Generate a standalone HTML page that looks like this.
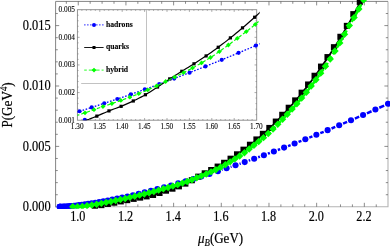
<!DOCTYPE html><html><head><meta charset="utf-8"><style>html,body{margin:0;padding:0;background:#fff}svg{display:block;will-change:transform;opacity:0.999}text{font-family:"Liberation Serif",serif;fill:#000}</style></head><body>
<svg width="390" height="246" viewBox="0 0 390 246">
<rect width="390" height="246" fill="#fff"/>
<defs><clipPath id="cm"><rect x="54.6" y="0" width="335.4" height="208.8"/></clipPath><clipPath id="ci"><rect x="77.4" y="7.699999999999999" width="182.29999999999998" height="112.5"/></clipPath></defs>
<path d="M55.6 206.8H388.0V1.4" fill="none" stroke="#b4b4b4" stroke-width="1.1"/><path d="M55.6 207.3V1.4H388.0" fill="none" stroke="#858585" stroke-width="1"/>
<path d="M66.33 206.8v-2.4M66.33 1.4v2.4M78.25 206.8v-4.0M78.25 1.4v4.0M90.17 206.8v-2.4M90.17 1.4v2.4M102.09 206.8v-2.4M102.09 1.4v2.4M114.01 206.8v-2.4M114.01 1.4v2.4M125.93 206.8v-4.0M125.93 1.4v4.0M137.85 206.8v-2.4M137.85 1.4v2.4M149.77 206.8v-2.4M149.77 1.4v2.4M161.69 206.8v-2.4M161.69 1.4v2.4M173.61 206.8v-4.0M173.61 1.4v4.0M185.53 206.8v-2.4M185.53 1.4v2.4M197.45 206.8v-2.4M197.45 1.4v2.4M209.37 206.8v-2.4M209.37 1.4v2.4M221.29 206.8v-4.0M221.29 1.4v4.0M233.21 206.8v-2.4M233.21 1.4v2.4M245.13 206.8v-2.4M245.13 1.4v2.4M257.05 206.8v-2.4M257.05 1.4v2.4M268.97 206.8v-4.0M268.97 1.4v4.0M280.89 206.8v-2.4M280.89 1.4v2.4M292.81 206.8v-2.4M292.81 1.4v2.4M304.73 206.8v-2.4M304.73 1.4v2.4M316.65 206.8v-4.0M316.65 1.4v4.0M328.57 206.8v-2.4M328.57 1.4v2.4M340.49 206.8v-2.4M340.49 1.4v2.4M352.41 206.8v-2.4M352.41 1.4v2.4M364.33 206.8v-4.0M364.33 1.4v4.0M376.25 206.8v-2.4M376.25 1.4v2.4M55.6 194.72h2.2M388.0 194.72h-2.2M55.6 182.64h2.2M388.0 182.64h-2.2M55.6 170.56h2.2M388.0 170.56h-2.2M55.6 158.48h2.2M388.0 158.48h-2.2M55.6 146.40h3.6M388.0 146.40h-3.6M55.6 134.32h2.2M388.0 134.32h-2.2M55.6 122.24h2.2M388.0 122.24h-2.2M55.6 110.16h2.2M388.0 110.16h-2.2M55.6 98.08h2.2M388.0 98.08h-2.2M55.6 86.00h3.6M388.0 86.00h-3.6M55.6 73.92h2.2M388.0 73.92h-2.2M55.6 61.84h2.2M388.0 61.84h-2.2M55.6 49.76h2.2M388.0 49.76h-2.2M55.6 37.68h2.2M388.0 37.68h-2.2M55.6 25.60h3.6M388.0 25.60h-3.6M55.6 13.52h2.2M388.0 13.52h-2.2" stroke="#5a5a5a" stroke-width="0.7" fill="none"/>
<text transform="translate(77.85,221.40) scale(1,1.13)" font-size="12.2" text-anchor="middle" stroke="#000" stroke-width="0.16" >1.0</text>
<text transform="translate(125.53,221.40) scale(1,1.13)" font-size="12.2" text-anchor="middle" stroke="#000" stroke-width="0.16" >1.2</text>
<text transform="translate(173.21,221.40) scale(1,1.13)" font-size="12.2" text-anchor="middle" stroke="#000" stroke-width="0.16" >1.4</text>
<text transform="translate(220.89,221.40) scale(1,1.13)" font-size="12.2" text-anchor="middle" stroke="#000" stroke-width="0.16" >1.6</text>
<text transform="translate(268.57,221.40) scale(1,1.13)" font-size="12.2" text-anchor="middle" stroke="#000" stroke-width="0.16" >1.8</text>
<text transform="translate(316.25,221.40) scale(1,1.13)" font-size="12.2" text-anchor="middle" stroke="#000" stroke-width="0.16" >2.0</text>
<text transform="translate(363.93,221.40) scale(1,1.13)" font-size="12.2" text-anchor="middle" stroke="#000" stroke-width="0.16" >2.2</text>
<text transform="translate(50.60,211.00) scale(1,1.13)" font-size="12.4" text-anchor="end" stroke="#000" stroke-width="0.16" >0.000</text>
<text transform="translate(50.60,150.60) scale(1,1.13)" font-size="12.4" text-anchor="end" stroke="#000" stroke-width="0.16" >0.005</text>
<text transform="translate(50.60,90.20) scale(1,1.13)" font-size="12.4" text-anchor="end" stroke="#000" stroke-width="0.16" >0.010</text>
<text transform="translate(50.60,29.80) scale(1,1.13)" font-size="12.4" text-anchor="end" stroke="#000" stroke-width="0.16" >0.015</text>
<text transform="translate(198.00,243.30) scale(1,1.13)" font-size="13.0" text-anchor="start" stroke="#000" stroke-width="0.17" ><tspan font-style="italic">μ</tspan><tspan font-style="italic" font-size="8.8" dy="2.2">B</tspan><tspan dy="-2.2">(GeV)</tspan></text>
<text transform="translate(11.90,127.60) rotate(-90) scale(1,1.13)" font-size="13.15" text-anchor="start" stroke="#000" stroke-width="0.17" >P(GeV<tspan font-size="8.8" dy="-4.6">4</tspan><tspan dy="4.6">)</tspan></text>
<g clip-path="url(#cm)"><path d="M95.41 206.42L96.82 206.15L98.24 205.88L99.65 205.61L101.06 205.34L102.47 205.07L103.88 204.79L105.29 204.52L106.70 204.25L108.11 203.97L109.53 203.70L110.94 203.43L112.35 203.15L113.76 202.88L115.17 202.60L116.58 202.33L117.99 202.05L119.40 201.77L120.81 201.50L122.23 201.22L123.64 200.94L125.05 200.67L126.46 200.39L127.87 200.11L129.28 199.83L130.69 199.55L132.10 199.27L133.52 198.99L134.93 198.71L136.34 198.43L137.75 198.15L139.16 197.87L140.57 197.61L141.98 197.34L143.39 197.08L144.81 196.82L146.22 196.55L147.63 196.28L149.04 195.99L150.45 195.69L151.86 195.38L153.27 195.04L154.68 194.67L156.10 194.26L157.51 193.82L158.92 193.35L160.33 192.86L161.74 192.36L163.15 191.85L164.56 191.35L165.97 190.86L167.39 190.38L168.80 189.94L170.21 189.52L171.62 189.10L173.03 188.66L174.44 188.18L175.85 187.68L177.26 187.17L178.68 186.63L180.09 186.08L181.50 185.51L182.91 184.92L184.32 184.31L185.73 183.68L187.14 183.01L188.55 182.30L189.97 181.56L191.38 180.79L192.79 180.01L194.20 179.22L195.61 178.43L197.02 177.65L198.43 176.89L199.84 176.15L201.26 175.41L202.67 174.69L204.08 173.97L205.49 173.26L206.90 172.55L208.31 171.83L209.72 171.12L211.13 170.40L212.55 169.67L213.96 168.94L215.37 168.19L216.78 167.43L218.19 166.65L219.60 165.86L221.01 165.04L222.42 164.21L223.83 163.36L225.25 162.50L226.66 161.62L228.07 160.73L229.48 159.83L230.89 158.91L232.30 157.98L233.71 157.04L235.12 156.08L236.54 155.11L237.95 154.13L239.36 153.13L240.77 152.13L242.18 151.11L243.59 150.07L245.00 149.03L246.41 147.97L247.83 146.89L249.24 145.80L250.65 144.69L252.06 143.56L253.47 142.42L254.88 141.26L256.29 140.08L257.70 138.89L259.12 137.69L260.53 136.47L261.94 135.23L263.35 133.99L264.76 132.72L266.17 131.45L267.58 130.16L268.99 128.86L270.41 127.54L271.82 126.18L273.23 124.80L274.64 123.40L276.05 121.97L277.46 120.52L278.87 119.05L280.28 117.56L281.70 116.07L283.11 114.56L284.52 113.04L285.93 111.50L287.34 109.96L288.75 108.41L290.16 106.84L291.57 105.26L292.99 103.66L294.40 102.04L295.81 100.41L297.22 98.76L298.63 97.09L300.04 95.40L301.45 93.69L302.86 91.95L304.28 90.19L305.69 88.41L307.10 86.60L308.51 84.77L309.92 82.91L311.33 81.03L312.74 79.12L314.15 77.19L315.57 75.24L316.98 73.27L318.39 71.28L319.80 69.27L321.21 67.24L322.62 65.20L324.03 63.13L325.44 61.06L326.85 58.96L328.27 56.86L329.68 54.73L331.09 52.59L332.50 50.41L333.91 48.22L335.32 46.00L336.73 43.76L338.14 41.49L339.56 39.20L340.97 36.88L342.38 34.54L343.79 32.18L345.20 29.79L346.61 27.38L348.02 24.95L349.43 22.45L350.85 19.90L352.26 17.30L353.67 14.66L355.08 12.00L356.49 9.33L357.90 6.65L359.31 3.95L360.72 1.23L362.14 -1.50L363.55 -4.26L364.96 -7.03L366.37 -9.82L367.78 -12.63L369.19 -15.46L370.60 -18.31L372.01 -21.19L373.43 -24.09L374.84 -27.02L376.25 -29.97" stroke="#000" stroke-width="1.8" fill="none"/><rect x="91.86" y="203.36" width="6.1" height="6.1" fill="#000"/><rect x="98.32" y="202.11" width="6.1" height="6.1" fill="#000"/><rect x="104.78" y="200.86" width="6.1" height="6.1" fill="#000"/><rect x="111.24" y="199.61" width="6.1" height="6.1" fill="#000"/><rect x="117.70" y="198.34" width="6.1" height="6.1" fill="#000"/><rect x="124.16" y="197.07" width="6.1" height="6.1" fill="#000"/><rect x="130.62" y="195.79" width="6.1" height="6.1" fill="#000"/><rect x="137.08" y="194.53" width="6.1" height="6.1" fill="#000"/><rect x="143.54" y="193.31" width="6.1" height="6.1" fill="#000"/><rect x="150.00" y="191.89" width="6.1" height="6.1" fill="#000"/><rect x="156.46" y="189.89" width="6.1" height="6.1" fill="#000"/><rect x="162.93" y="187.60" width="6.1" height="6.1" fill="#000"/><rect x="169.39" y="185.60" width="6.1" height="6.1" fill="#000"/><rect x="175.85" y="183.27" width="6.1" height="6.1" fill="#000"/><rect x="182.31" y="180.53" width="6.1" height="6.1" fill="#000"/><rect x="188.77" y="177.17" width="6.1" height="6.1" fill="#000"/><rect x="195.23" y="173.60" width="6.1" height="6.1" fill="#000"/><rect x="201.69" y="170.28" width="6.1" height="6.1" fill="#000"/><rect x="208.15" y="167.01" width="6.1" height="6.1" fill="#000"/><rect x="214.61" y="163.56" width="6.1" height="6.1" fill="#000"/><rect x="221.07" y="159.77" width="6.1" height="6.1" fill="#000"/><rect x="227.53" y="155.67" width="6.1" height="6.1" fill="#000"/><rect x="233.99" y="151.29" width="6.1" height="6.1" fill="#000"/><rect x="240.45" y="146.65" width="6.1" height="6.1" fill="#000"/><rect x="246.91" y="141.71" width="6.1" height="6.1" fill="#000"/><rect x="253.37" y="136.42" width="6.1" height="6.1" fill="#000"/><rect x="259.83" y="130.82" width="6.1" height="6.1" fill="#000"/><rect x="266.30" y="124.92" width="6.1" height="6.1" fill="#000"/><rect x="272.76" y="118.55" width="6.1" height="6.1" fill="#000"/><rect x="279.22" y="111.76" width="6.1" height="6.1" fill="#000"/><rect x="285.68" y="104.72" width="6.1" height="6.1" fill="#000"/><rect x="292.14" y="97.38" width="6.1" height="6.1" fill="#000"/><rect x="298.60" y="89.66" width="6.1" height="6.1" fill="#000"/><rect x="305.06" y="81.46" width="6.1" height="6.1" fill="#000"/><rect x="311.52" y="72.74" width="6.1" height="6.1" fill="#000"/><rect x="317.98" y="63.58" width="6.1" height="6.1" fill="#000"/><rect x="324.44" y="54.07" width="6.1" height="6.1" fill="#000"/><rect x="330.90" y="44.16" width="6.1" height="6.1" fill="#000"/><rect x="337.36" y="33.76" width="6.1" height="6.1" fill="#000"/><rect x="343.82" y="22.85" width="6.1" height="6.1" fill="#000"/><rect x="350.28" y="11.11" width="6.1" height="6.1" fill="#000"/><rect x="356.74" y="-1.18" width="6.1" height="6.1" fill="#000"/><path d="M59.67 206.80L59.79 206.80M59.79 206.80L60.04 206.79M60.04 206.79L60.43 206.78M60.43 206.78L60.98 206.77M60.98 206.77L61.70 206.74M61.70 206.74L62.59 206.69M62.59 206.69L63.65 206.63M63.65 206.63L64.90 206.55M64.90 206.55L66.33 206.44M66.33 206.44L67.95 206.31M67.95 206.31L69.76 206.15M69.76 206.15L71.77 205.95M71.77 205.95L73.98 205.72M73.98 205.72L76.40 205.44M76.40 205.44L79.02 205.12M79.02 205.12L81.85 204.76M81.85 204.76L84.89 204.34M84.89 204.34L88.14 203.86M88.14 203.86L91.62 203.33M91.62 203.33L95.31 202.73M95.31 202.73L99.22 202.06M99.22 202.06L103.35 201.32M103.35 201.32L107.71 200.51M107.71 200.51L112.30 199.62M112.30 199.62L117.11 198.64M117.11 198.64L122.16 197.58M122.16 197.58L127.43 196.43M127.43 196.43L132.94 195.18M132.94 195.18L138.69 193.83M221.93 169.85L222.55 169.65M230.61 166.94L231.50 166.64M239.54 163.88L240.71 163.47M248.73 160.65L250.18 160.14M258.18 157.26L259.90 156.64M267.88 153.70L269.88 152.96M277.84 149.97L280.12 149.10M288.06 146.05L290.62 145.06M298.54 141.96L301.39 140.83M309.28 137.67L312.41 136.41M320.28 133.20L323.70 131.79M331.55 128.52L335.26 126.96M343.09 123.65L347.08 121.93M354.88 118.56L359.17 116.69M366.95 113.27L371.53 111.24M379.28 107.76L384.15 105.56" stroke="#0000ff" stroke-width="2.5" fill="none"/><circle cx="59.67" cy="206.80" r="3.05" fill="#0000ff"/><circle cx="59.79" cy="206.80" r="3.05" fill="#0000ff"/><circle cx="60.04" cy="206.79" r="3.05" fill="#0000ff"/><circle cx="60.43" cy="206.78" r="3.05" fill="#0000ff"/><circle cx="60.98" cy="206.77" r="3.05" fill="#0000ff"/><circle cx="61.70" cy="206.74" r="3.05" fill="#0000ff"/><circle cx="62.59" cy="206.69" r="3.05" fill="#0000ff"/><circle cx="63.65" cy="206.63" r="3.05" fill="#0000ff"/><circle cx="64.90" cy="206.55" r="3.05" fill="#0000ff"/><circle cx="66.33" cy="206.44" r="3.05" fill="#0000ff"/><circle cx="67.95" cy="206.31" r="3.05" fill="#0000ff"/><circle cx="69.76" cy="206.15" r="3.05" fill="#0000ff"/><circle cx="71.77" cy="205.95" r="3.05" fill="#0000ff"/><circle cx="73.98" cy="205.72" r="3.05" fill="#0000ff"/><circle cx="76.40" cy="205.44" r="3.05" fill="#0000ff"/><circle cx="79.02" cy="205.12" r="3.05" fill="#0000ff"/><circle cx="81.85" cy="204.76" r="3.05" fill="#0000ff"/><circle cx="84.89" cy="204.34" r="3.05" fill="#0000ff"/><circle cx="88.14" cy="203.86" r="3.05" fill="#0000ff"/><circle cx="91.62" cy="203.33" r="3.05" fill="#0000ff"/><circle cx="95.31" cy="202.73" r="3.05" fill="#0000ff"/><circle cx="99.22" cy="202.06" r="3.05" fill="#0000ff"/><circle cx="103.35" cy="201.32" r="3.05" fill="#0000ff"/><circle cx="107.71" cy="200.51" r="3.05" fill="#0000ff"/><circle cx="112.30" cy="199.62" r="3.05" fill="#0000ff"/><circle cx="117.11" cy="198.64" r="3.05" fill="#0000ff"/><circle cx="122.16" cy="197.58" r="3.05" fill="#0000ff"/><circle cx="127.43" cy="196.43" r="3.05" fill="#0000ff"/><circle cx="132.94" cy="195.18" r="3.05" fill="#0000ff"/><circle cx="138.69" cy="193.83" r="3.05" fill="#0000ff"/><circle cx="144.68" cy="192.38" r="3.05" fill="#0000ff"/><circle cx="150.90" cy="190.82" r="3.05" fill="#0000ff"/><circle cx="157.36" cy="189.14" r="3.05" fill="#0000ff"/><circle cx="164.07" cy="187.35" r="3.05" fill="#0000ff"/><circle cx="171.02" cy="185.44" r="3.05" fill="#0000ff"/><circle cx="178.21" cy="183.41" r="3.05" fill="#0000ff"/><circle cx="185.65" cy="181.24" r="3.05" fill="#0000ff"/><circle cx="193.34" cy="178.94" r="3.05" fill="#0000ff"/><circle cx="201.27" cy="176.50" r="3.05" fill="#0000ff"/><circle cx="209.46" cy="173.92" r="3.05" fill="#0000ff"/><circle cx="217.90" cy="171.19" r="3.05" fill="#0000ff"/><circle cx="226.59" cy="168.31" r="3.05" fill="#0000ff"/><circle cx="235.53" cy="165.27" r="3.05" fill="#0000ff"/><circle cx="244.73" cy="162.08" r="3.05" fill="#0000ff"/><circle cx="254.18" cy="158.72" r="3.05" fill="#0000ff"/><circle cx="263.89" cy="155.18" r="3.05" fill="#0000ff"/><circle cx="273.87" cy="151.48" r="3.05" fill="#0000ff"/><circle cx="284.10" cy="147.59" r="3.05" fill="#0000ff"/><circle cx="294.59" cy="143.52" r="3.05" fill="#0000ff"/><circle cx="305.34" cy="139.27" r="3.05" fill="#0000ff"/><circle cx="316.36" cy="134.82" r="3.05" fill="#0000ff"/><circle cx="327.63" cy="130.17" r="3.05" fill="#0000ff"/><circle cx="339.18" cy="125.32" r="3.05" fill="#0000ff"/><circle cx="350.99" cy="120.26" r="3.05" fill="#0000ff"/><circle cx="363.07" cy="114.99" r="3.05" fill="#0000ff"/><circle cx="375.41" cy="109.51" r="3.05" fill="#0000ff"/><circle cx="388.02" cy="103.80" r="3.05" fill="#0000ff"/><path d="M72.69 206.79L74.22 206.78L75.74 206.76L77.27 206.74L78.79 206.71L80.32 206.62L81.85 206.48L83.37 206.29L84.90 206.07L86.42 205.84L87.95 205.59L89.47 205.36L91.00 205.13L92.52 204.90L94.05 204.65L95.57 204.40L97.10 204.13L98.63 203.86L100.15 203.58L101.68 203.29L103.20 203.00L104.73 202.70L106.25 202.40L107.78 202.09L109.30 201.78L110.83 201.47L112.35 201.16L113.88 200.85L115.40 200.54L116.93 200.23L118.46 199.91L119.98 199.58L121.51 199.25L123.03 198.92L124.56 198.58L126.08 198.24L127.61 197.90L129.13 197.55L130.66 197.20L132.18 196.85L133.71 196.50L135.23 196.14L136.76 195.79L138.29 195.43L139.81 195.07L141.34 194.71L142.86 194.34L144.39 193.97L145.91 193.59L147.44 193.21L148.96 192.81L150.49 192.41L152.01 192.00L153.54 191.58L155.06 191.14L156.59 190.71L158.12 190.27L159.64 189.83L161.17 189.39L162.69 188.96L164.22 188.54L165.74 188.11L167.27 187.69L168.79 187.26L170.32 186.83L171.84 186.39L173.37 185.94L174.90 185.48L176.42 185.02L177.95 184.55L179.47 184.07L181.00 183.59L182.52 183.09L184.05 182.58L185.57 182.06L187.10 181.52L188.62 180.96L190.15 180.38L191.67 179.80L193.20 179.20L194.73 178.60L196.25 177.99L197.78 177.38L199.30 176.77L200.83 176.16L202.35 175.55L203.88 174.93L205.40 174.31L206.93 173.67L208.45 173.01L209.98 172.34L211.50 171.66L213.03 170.97L214.56 170.26L216.08 169.54L217.61 168.80L219.13 168.05L220.66 167.27L222.18 166.46L223.71 165.62L225.23 164.75L226.76 163.85L228.28 162.94L229.81 162.01L231.33 161.08L232.86 160.14L234.39 159.21L235.91 158.28L237.44 157.35L238.96 156.41L240.49 155.45L242.01 154.46L243.54 153.43L245.06 152.35L246.59 151.19L248.11 149.94L249.64 148.70L251.17 147.47L252.69 146.26L254.22 145.06L255.74 143.85L257.27 142.65L258.79 141.44L260.32 140.22L261.84 138.98L263.37 137.72L264.89 136.44L266.42 135.13L267.94 133.79L269.47 132.41L271.00 130.99L272.52 129.52L274.05 128.02L275.57 126.48L277.10 124.92L278.62 123.34L280.15 121.75L281.67 120.15L283.20 118.54L284.72 116.94L286.25 115.34L287.77 113.73L289.30 112.11L290.83 110.47L292.35 108.81L293.88 107.13L295.40 105.43L296.93 103.68L298.45 101.90L299.98 100.10L301.50 98.26L303.03 96.40L304.55 94.52L306.08 92.61L307.60 90.68L309.13 88.72L310.66 86.74L312.18 84.74L313.71 82.71L315.23 80.67L316.76 78.60L318.28 76.51L319.81 74.40L321.33 72.25L322.86 70.07L324.38 67.85L325.91 65.60L327.44 63.30L328.96 60.96L330.49 58.56L332.01 56.06L333.54 53.48L335.06 50.88L336.59 48.29L338.11 45.71L339.64 43.11L341.16 40.47L342.69 37.78L344.21 34.98L345.74 32.06L347.27 29.17L348.79 26.42L350.32 23.87L351.84 21.38L353.37 18.83L354.89 16.16L356.42 13.42L357.94 10.63L359.47 7.79L360.99 4.89L362.52 1.96L364.04 -0.99L365.57 -3.95L367.10 -6.93L368.62 -9.92L370.15 -12.92L371.67 -15.95L373.20 -18.99L374.72 -22.05L376.25 -25.14" stroke="#00ff00" stroke-width="2.6" fill="none" stroke-dasharray="5 2.5"/><path d="M69.06 206.79L72.76 203.09L76.46 206.79L72.76 210.49Z" fill="#00ff00"/><path d="M73.83 206.73L77.53 203.03L81.23 206.73L77.53 210.43Z" fill="#00ff00"/><path d="M78.60 206.42L82.30 202.72L86.00 206.42L82.30 210.12Z" fill="#00ff00"/><path d="M83.37 205.73L87.07 202.03L90.77 205.73L87.07 209.43Z" fill="#00ff00"/><path d="M88.14 205.00L91.84 201.30L95.54 205.00L91.84 208.70Z" fill="#00ff00"/><path d="M92.90 204.22L96.60 200.52L100.30 204.22L96.60 207.92Z" fill="#00ff00"/><path d="M97.67 203.35L101.37 199.65L105.07 203.35L101.37 207.05Z" fill="#00ff00"/><path d="M102.44 202.42L106.14 198.72L109.84 202.42L106.14 206.12Z" fill="#00ff00"/><path d="M107.21 201.46L110.91 197.76L114.61 201.46L110.91 205.16Z" fill="#00ff00"/><path d="M111.98 200.49L115.68 196.79L119.38 200.49L115.68 204.19Z" fill="#00ff00"/><path d="M116.74 199.48L120.44 195.78L124.14 199.48L120.44 203.18Z" fill="#00ff00"/><path d="M121.51 198.44L125.21 194.74L128.91 198.44L125.21 202.14Z" fill="#00ff00"/><path d="M126.28 197.36L129.98 193.66L133.68 197.36L129.98 201.06Z" fill="#00ff00"/><path d="M131.05 196.26L134.75 192.56L138.45 196.26L134.75 199.96Z" fill="#00ff00"/><path d="M135.82 195.14L139.52 191.44L143.22 195.14L139.52 198.84Z" fill="#00ff00"/><path d="M140.58 193.99L144.28 190.29L147.98 193.99L144.28 197.69Z" fill="#00ff00"/><path d="M145.35 192.79L149.05 189.09L152.75 192.79L149.05 196.49Z" fill="#00ff00"/><path d="M150.12 191.50L153.82 187.80L157.52 191.50L153.82 195.20Z" fill="#00ff00"/><path d="M154.89 190.13L158.59 186.43L162.29 190.13L158.59 193.83Z" fill="#00ff00"/><path d="M159.66 188.78L163.36 185.08L167.06 188.78L163.36 192.48Z" fill="#00ff00"/><path d="M164.42 187.45L168.12 183.75L171.82 187.45L168.12 191.15Z" fill="#00ff00"/><path d="M169.19 186.08L172.89 182.38L176.59 186.08L172.89 189.78Z" fill="#00ff00"/><path d="M173.96 184.64L177.66 180.94L181.36 184.64L177.66 188.34Z" fill="#00ff00"/><path d="M178.73 183.12L182.43 179.42L186.13 183.12L182.43 186.82Z" fill="#00ff00"/><path d="M183.50 181.48L187.20 177.78L190.90 181.48L187.20 185.18Z" fill="#00ff00"/><path d="M188.26 179.68L191.96 175.98L195.66 179.68L191.96 183.38Z" fill="#00ff00"/><path d="M193.03 177.80L196.73 174.10L200.43 177.80L196.73 181.50Z" fill="#00ff00"/><path d="M197.80 175.89L201.50 172.19L205.20 175.89L201.50 179.59Z" fill="#00ff00"/><path d="M202.57 173.95L206.27 170.25L209.97 173.95L206.27 177.65Z" fill="#00ff00"/><path d="M207.34 171.87L211.04 168.17L214.74 171.87L211.04 175.57Z" fill="#00ff00"/><path d="M212.10 169.68L215.80 165.98L219.50 169.68L215.80 173.38Z" fill="#00ff00"/><path d="M216.87 167.31L220.57 163.61L224.27 167.31L220.57 171.01Z" fill="#00ff00"/><path d="M221.64 164.69L225.34 160.99L229.04 164.69L225.34 168.39Z" fill="#00ff00"/><path d="M226.41 161.83L230.11 158.13L233.81 161.83L230.11 165.53Z" fill="#00ff00"/><path d="M231.18 158.91L234.88 155.21L238.58 158.91L234.88 162.61Z" fill="#00ff00"/><path d="M235.94 155.98L239.64 152.28L243.34 155.98L239.64 159.68Z" fill="#00ff00"/><path d="M240.71 152.82L244.41 149.12L248.11 152.82L244.41 156.52Z" fill="#00ff00"/><path d="M245.48 149.07L249.18 145.37L252.88 149.07L249.18 152.77Z" fill="#00ff00"/><path d="M250.25 145.27L253.95 141.57L257.65 145.27L253.95 148.97Z" fill="#00ff00"/><path d="M255.02 141.50L258.72 137.80L262.42 141.50L258.72 145.20Z" fill="#00ff00"/><path d="M259.78 137.63L263.48 133.93L267.18 137.63L263.48 141.33Z" fill="#00ff00"/><path d="M264.55 133.52L268.25 129.82L271.95 133.52L268.25 137.22Z" fill="#00ff00"/><path d="M269.32 129.03L273.02 125.33L276.72 129.03L273.02 132.73Z" fill="#00ff00"/><path d="M274.09 124.21L277.79 120.51L281.49 124.21L277.79 127.91Z" fill="#00ff00"/><path d="M278.86 119.22L282.56 115.52L286.26 119.22L282.56 122.92Z" fill="#00ff00"/><path d="M283.62 114.20L287.32 110.50L291.02 114.20L287.32 117.90Z" fill="#00ff00"/><path d="M288.39 109.10L292.09 105.40L295.79 109.10L292.09 112.80Z" fill="#00ff00"/><path d="M293.16 103.76L296.86 100.06L300.56 103.76L296.86 107.46Z" fill="#00ff00"/><path d="M297.93 98.11L301.63 94.41L305.33 98.11L301.63 101.81Z" fill="#00ff00"/><path d="M302.70 92.21L306.40 88.51L310.10 92.21L306.40 95.91Z" fill="#00ff00"/><path d="M307.46 86.07L311.16 82.37L314.86 86.07L311.16 89.77Z" fill="#00ff00"/><path d="M312.23 79.72L315.93 76.02L319.63 79.72L315.93 83.42Z" fill="#00ff00"/><path d="M317.00 73.15L320.70 69.45L324.40 73.15L320.70 76.85Z" fill="#00ff00"/><path d="M321.77 66.25L325.47 62.55L329.17 66.25L325.47 69.95Z" fill="#00ff00"/><path d="M326.54 58.96L330.24 55.26L333.94 58.96L330.24 62.66Z" fill="#00ff00"/><path d="M331.30 50.98L335.00 47.28L338.70 50.98L335.00 54.68Z" fill="#00ff00"/><path d="M336.07 42.88L339.77 39.18L343.47 42.88L339.77 46.58Z" fill="#00ff00"/><path d="M340.84 34.36L344.54 30.66L348.24 34.36L344.54 38.06Z" fill="#00ff00"/><path d="M345.61 25.54L349.31 21.84L353.01 25.54L349.31 29.24Z" fill="#00ff00"/><path d="M350.38 17.60L354.08 13.90L357.78 17.60L354.08 21.30Z" fill="#00ff00"/><path d="M355.14 8.96L358.84 5.26L362.54 8.96L358.84 12.66Z" fill="#00ff00"/><path d="M359.91 -0.15L363.61 -3.85L367.31 -0.15L363.61 3.55Z" fill="#00ff00"/></g>
<rect x="77.4" y="9.7" width="179.29999999999998" height="110.5" fill="#fff" stroke="#888" stroke-width="0.9"/>
<path d="M81.88 120.2v-1.2M81.88 9.7v1.2M86.36 120.2v-1.2M86.36 9.7v1.2M90.84 120.2v-1.2M90.84 9.7v1.2M95.32 120.2v-1.2M95.32 9.7v1.2M99.80 120.2v-2.2M99.80 9.7v2.2M104.28 120.2v-1.2M104.28 9.7v1.2M108.76 120.2v-1.2M108.76 9.7v1.2M113.24 120.2v-1.2M113.24 9.7v1.2M117.72 120.2v-1.2M117.72 9.7v1.2M122.20 120.2v-2.2M122.20 9.7v2.2M126.68 120.2v-1.2M126.68 9.7v1.2M131.16 120.2v-1.2M131.16 9.7v1.2M135.64 120.2v-1.2M135.64 9.7v1.2M140.12 120.2v-1.2M140.12 9.7v1.2M144.60 120.2v-2.2M144.60 9.7v2.2M149.08 120.2v-1.2M149.08 9.7v1.2M153.56 120.2v-1.2M153.56 9.7v1.2M158.04 120.2v-1.2M158.04 9.7v1.2M162.52 120.2v-1.2M162.52 9.7v1.2M167.00 120.2v-2.2M167.00 9.7v2.2M171.48 120.2v-1.2M171.48 9.7v1.2M175.96 120.2v-1.2M175.96 9.7v1.2M180.44 120.2v-1.2M180.44 9.7v1.2M184.92 120.2v-1.2M184.92 9.7v1.2M189.40 120.2v-2.2M189.40 9.7v2.2M193.88 120.2v-1.2M193.88 9.7v1.2M198.36 120.2v-1.2M198.36 9.7v1.2M202.84 120.2v-1.2M202.84 9.7v1.2M207.32 120.2v-1.2M207.32 9.7v1.2M211.80 120.2v-2.2M211.80 9.7v2.2M216.28 120.2v-1.2M216.28 9.7v1.2M220.76 120.2v-1.2M220.76 9.7v1.2M225.24 120.2v-1.2M225.24 9.7v1.2M229.72 120.2v-1.2M229.72 9.7v1.2M234.20 120.2v-2.2M234.20 9.7v2.2M238.68 120.2v-1.2M238.68 9.7v1.2M243.16 120.2v-1.2M243.16 9.7v1.2M247.64 120.2v-1.2M247.64 9.7v1.2M252.12 120.2v-1.2M252.12 9.7v1.2M77.4 114.67h1.2M256.7 114.67h-1.2M77.4 109.15h1.2M256.7 109.15h-1.2M77.4 103.62h1.2M256.7 103.62h-1.2M77.4 98.10h1.2M256.7 98.10h-1.2M77.4 92.58h2.2M256.7 92.58h-2.2M77.4 87.05h1.2M256.7 87.05h-1.2M77.4 81.53h1.2M256.7 81.53h-1.2M77.4 76.00h1.2M256.7 76.00h-1.2M77.4 70.47h1.2M256.7 70.47h-1.2M77.4 64.95h2.2M256.7 64.95h-2.2M77.4 59.42h1.2M256.7 59.42h-1.2M77.4 53.90h1.2M256.7 53.90h-1.2M77.4 48.38h1.2M256.7 48.38h-1.2M77.4 42.85h1.2M256.7 42.85h-1.2M77.4 37.33h2.2M256.7 37.33h-2.2M77.4 31.80h1.2M256.7 31.80h-1.2M77.4 26.27h1.2M256.7 26.27h-1.2M77.4 20.75h1.2M256.7 20.75h-1.2M77.4 15.22h1.2M256.7 15.22h-1.2" stroke="#777" stroke-width="0.6" fill="none"/>
<text transform="translate(77.20,128.60) scale(1,1.13)" font-size="7.25" text-anchor="middle" stroke="#000" stroke-width="0.09" >1.30</text>
<text transform="translate(99.60,128.60) scale(1,1.13)" font-size="7.25" text-anchor="middle" stroke="#000" stroke-width="0.09" >1.35</text>
<text transform="translate(122.00,128.60) scale(1,1.13)" font-size="7.25" text-anchor="middle" stroke="#000" stroke-width="0.09" >1.40</text>
<text transform="translate(144.40,128.60) scale(1,1.13)" font-size="7.25" text-anchor="middle" stroke="#000" stroke-width="0.09" >1.45</text>
<text transform="translate(166.80,128.60) scale(1,1.13)" font-size="7.25" text-anchor="middle" stroke="#000" stroke-width="0.09" >1.50</text>
<text transform="translate(189.20,128.60) scale(1,1.13)" font-size="7.25" text-anchor="middle" stroke="#000" stroke-width="0.09" >1.55</text>
<text transform="translate(211.60,128.60) scale(1,1.13)" font-size="7.25" text-anchor="middle" stroke="#000" stroke-width="0.09" >1.60</text>
<text transform="translate(234.00,128.60) scale(1,1.13)" font-size="7.25" text-anchor="middle" stroke="#000" stroke-width="0.09" >1.65</text>
<text transform="translate(256.40,128.60) scale(1,1.13)" font-size="7.25" text-anchor="middle" stroke="#000" stroke-width="0.09" >1.70</text>
<text transform="translate(75.00,122.70) scale(1,1.13)" font-size="7.3" text-anchor="end" stroke="#000" stroke-width="0.09" >0.001</text>
<text transform="translate(75.00,95.08) scale(1,1.13)" font-size="7.3" text-anchor="end" stroke="#000" stroke-width="0.09" >0.002</text>
<text transform="translate(75.00,67.45) scale(1,1.13)" font-size="7.3" text-anchor="end" stroke="#000" stroke-width="0.09" >0.003</text>
<text transform="translate(75.00,39.83) scale(1,1.13)" font-size="7.3" text-anchor="end" stroke="#000" stroke-width="0.09" >0.004</text>
<text transform="translate(75.00,12.20) scale(1,1.13)" font-size="7.3" text-anchor="end" stroke="#000" stroke-width="0.09" >0.005</text>
<g clip-path="url(#ci)"><path d="M55.00 118.63L57.26 117.97L59.53 117.31L61.79 116.64L64.05 115.97L66.31 115.30L68.58 114.62L70.84 113.94L73.10 113.25L75.36 112.56L77.63 111.86L79.89 111.16L82.15 110.46L84.41 109.75L86.68 109.03L88.94 108.32L91.20 107.60L93.46 106.87L95.73 106.14L97.99 105.41L100.25 104.67L102.52 103.93L104.78 103.19L107.04 102.44L109.30 101.68L111.57 100.93L113.83 100.17L116.09 99.40L118.35 98.63L120.62 97.86L122.88 97.09L125.14 96.31L127.40 95.52L129.67 94.74L131.93 93.95L134.19 93.15L136.45 92.36L138.72 91.55L140.98 90.75L143.24 89.94L145.51 89.13L147.77 88.31L150.03 87.49L152.29 86.67L154.56 85.85L156.82 85.02L159.08 84.18L161.34 83.35L163.61 82.51L165.87 81.66L168.13 80.82L170.39 79.97L172.66 79.11L174.92 78.26L177.18 77.40L179.44 76.54L181.71 75.67L183.97 74.80L186.23 73.93L188.49 73.05L190.76 72.17L193.02 71.29L195.28 70.40L197.55 69.51L199.81 68.62L202.07 67.73L204.33 66.83L206.60 65.93L208.86 65.02L211.12 64.11L213.38 63.20L215.65 62.29L217.91 61.37L220.17 60.45L222.43 59.53L224.70 58.60L226.96 57.67L229.22 56.74L231.48 55.81L233.75 54.87L236.01 53.93L238.27 52.98L240.54 52.04L242.80 51.09L245.06 50.13L247.32 49.18L249.59 48.22L251.85 47.26L254.11 46.29L256.37 45.33L258.64 44.36L260.90 43.38L263.16 42.41L265.42 41.43L267.69 40.45L269.95 39.46L272.21 38.48L274.47 37.49L276.74 36.49L279.00 35.50" stroke="#0000ff" stroke-width="1.3" fill="none" stroke-dasharray="1.6 1.6"/><circle cx="79.53" cy="111.27" r="2.1" fill="#0000ff"/><circle cx="91.67" cy="107.45" r="2.1" fill="#0000ff"/><circle cx="104.27" cy="103.35" r="2.1" fill="#0000ff"/><circle cx="117.33" cy="98.98" r="2.1" fill="#0000ff"/><circle cx="130.85" cy="94.32" r="2.1" fill="#0000ff"/><circle cx="144.83" cy="89.37" r="2.1" fill="#0000ff"/><circle cx="159.27" cy="84.11" r="2.1" fill="#0000ff"/><circle cx="174.19" cy="78.54" r="2.1" fill="#0000ff"/><circle cx="189.57" cy="72.63" r="2.1" fill="#0000ff"/><circle cx="205.43" cy="66.39" r="2.1" fill="#0000ff"/><circle cx="221.76" cy="59.81" r="2.1" fill="#0000ff"/><circle cx="238.56" cy="52.86" r="2.1" fill="#0000ff"/><circle cx="255.85" cy="45.55" r="2.1" fill="#0000ff"/><circle cx="84.8" cy="119.8" r="2.1" fill="#0000ff"/><path d="M55.00 128.00L57.26 127.46L59.53 126.93L61.79 126.42L64.05 125.91L66.31 125.40L68.58 124.88L70.84 124.36L73.10 123.83L75.36 123.28L77.63 122.70L79.89 122.10L82.15 121.47L84.41 120.80L86.68 120.08L88.94 119.29L91.20 118.43L93.46 117.53L95.73 116.59L97.99 115.63L100.25 114.65L102.52 113.66L104.78 112.68L107.04 111.71L109.30 110.77L111.57 109.87L113.83 109.02L116.09 108.20L118.35 107.38L120.62 106.53L122.88 105.61L125.14 104.66L127.40 103.67L129.67 102.66L131.93 101.61L134.19 100.54L136.45 99.43L138.72 98.29L140.98 97.12L143.24 95.91L145.51 94.67L147.77 93.35L150.03 91.97L152.29 90.53L154.56 89.04L156.82 87.53L159.08 85.99L161.34 84.45L163.61 82.91L165.87 81.38L168.13 79.89L170.39 78.43L172.66 76.99L174.92 75.57L177.18 74.16L179.44 72.76L181.71 71.37L183.97 69.98L186.23 68.59L188.49 67.20L190.76 65.80L193.02 64.40L195.28 62.98L197.55 61.54L199.81 60.09L202.07 58.62L204.33 57.12L206.60 55.60L208.86 54.04L211.12 52.45L213.38 50.83L215.65 49.18L217.91 47.51L220.17 45.82L222.43 44.10L224.70 42.36L226.96 40.60L229.22 38.81L231.48 37.00L233.75 35.17L236.01 33.32L238.27 31.45L240.54 29.55L242.80 27.64L245.06 25.70L247.32 23.74L249.59 21.77L251.85 19.77L254.11 17.75L256.37 15.71L258.64 13.64L260.90 11.55L263.16 9.43L265.42 7.28L267.69 5.10L269.95 2.89L272.21 0.66L274.47 -1.60L276.74 -3.88L279.00 -6.19" stroke="#000" stroke-width="1.2" fill="none"/><rect x="95.24" y="114.52" width="3.2" height="3.2" fill="#000"/><rect x="107.38" y="109.30" width="3.2" height="3.2" fill="#000"/><rect x="119.52" y="104.73" width="3.2" height="3.2" fill="#000"/><rect x="131.67" y="99.38" width="3.2" height="3.2" fill="#000"/><rect x="143.81" y="93.12" width="3.2" height="3.2" fill="#000"/><rect x="155.95" y="85.43" width="3.2" height="3.2" fill="#000"/><rect x="168.09" y="77.28" width="3.2" height="3.2" fill="#000"/><rect x="180.23" y="69.69" width="3.2" height="3.2" fill="#000"/><rect x="192.37" y="62.20" width="3.2" height="3.2" fill="#000"/><rect x="204.51" y="54.33" width="3.2" height="3.2" fill="#000"/><rect x="216.65" y="45.65" width="3.2" height="3.2" fill="#000"/><rect x="228.79" y="36.28" width="3.2" height="3.2" fill="#000"/><rect x="240.93" y="26.26" width="3.2" height="3.2" fill="#000"/><rect x="253.07" y="15.64" width="3.2" height="3.2" fill="#000"/><path d="M55.00 122.06L57.26 121.41L59.53 120.76L61.79 120.10L64.05 119.44L66.31 118.77L68.58 118.09L70.84 117.41L73.10 116.71L75.36 116.01L77.63 115.29L79.89 114.55L82.15 113.80L84.41 113.03L86.68 112.26L88.94 111.47L91.20 110.68L93.46 109.88L95.73 109.09L97.99 108.30L100.25 107.52L102.52 106.75L104.78 105.98L107.04 105.21L109.30 104.45L111.57 103.68L113.83 102.90L116.09 102.12L118.35 101.33L120.62 100.52L122.88 99.70L125.14 98.87L127.40 98.04L129.67 97.19L131.93 96.34L134.19 95.47L136.45 94.60L138.72 93.70L140.98 92.79L143.24 91.85L145.51 90.90L147.77 89.92L150.03 88.91L152.29 87.88L154.56 86.83L156.82 85.76L159.08 84.68L161.34 83.59L163.61 82.49L165.87 81.40L168.13 80.30L170.39 79.20L172.66 78.10L174.92 77.00L177.18 75.89L179.44 74.77L181.71 73.64L183.97 72.49L186.23 71.32L188.49 70.13L190.76 68.92L193.02 67.69L195.28 66.44L197.55 65.18L199.81 63.90L202.07 62.59L204.33 61.26L206.60 59.90L208.86 58.52L211.12 57.10L213.38 55.64L215.65 54.13L217.91 52.57L220.17 50.98L222.43 49.36L224.70 47.71L226.96 46.04L229.22 44.36L231.48 42.67L233.75 40.98L236.01 39.30L238.27 37.62L240.54 35.95L242.80 34.26L245.06 32.56L247.32 30.83L249.59 29.05L251.85 27.23L254.11 25.35L256.37 23.41L258.64 21.34L260.90 19.12L263.16 16.85L265.42 14.61L267.69 12.40L269.95 10.21L272.21 8.03L274.47 5.86L276.74 3.69L279.00 1.52" stroke="#00ff00" stroke-width="1.2" fill="none" stroke-dasharray="3.5 2"/><path d="M82.62 112.83L85.02 110.43L87.42 112.83L85.02 115.23Z" fill="#00ff00"/><path d="M91.58 109.71L93.98 107.31L96.38 109.71L93.98 112.11Z" fill="#00ff00"/><path d="M100.54 106.61L102.94 104.21L105.34 106.61L102.94 109.01Z" fill="#00ff00"/><path d="M109.50 103.57L111.90 101.17L114.30 103.57L111.90 105.97Z" fill="#00ff00"/><path d="M118.46 100.44L120.86 98.04L123.26 100.44L120.86 102.84Z" fill="#00ff00"/><path d="M127.42 97.14L129.82 94.74L132.22 97.14L129.82 99.54Z" fill="#00ff00"/><path d="M136.38 93.68L138.78 91.28L141.18 93.68L138.78 96.08Z" fill="#00ff00"/><path d="M145.34 89.93L147.74 87.53L150.14 89.93L147.74 92.33Z" fill="#00ff00"/><path d="M154.30 85.82L156.70 83.42L159.10 85.82L156.70 88.22Z" fill="#00ff00"/><path d="M163.26 81.50L165.66 79.10L168.06 81.50L165.66 83.90Z" fill="#00ff00"/><path d="M172.22 77.15L174.62 74.75L177.02 77.15L174.62 79.55Z" fill="#00ff00"/><path d="M181.18 72.69L183.58 70.29L185.98 72.69L183.58 75.09Z" fill="#00ff00"/><path d="M190.14 67.95L192.54 65.55L194.94 67.95L192.54 70.35Z" fill="#00ff00"/><path d="M199.10 62.93L201.50 60.53L203.90 62.93L201.50 65.33Z" fill="#00ff00"/><path d="M208.06 57.52L210.46 55.12L212.86 57.52L210.46 59.92Z" fill="#00ff00"/><path d="M217.02 51.51L219.42 49.11L221.82 51.51L219.42 53.91Z" fill="#00ff00"/><path d="M225.98 44.99L228.38 42.59L230.78 44.99L228.38 47.39Z" fill="#00ff00"/><path d="M234.94 38.31L237.34 35.91L239.74 38.31L237.34 40.71Z" fill="#00ff00"/><path d="M243.90 31.62L246.30 29.22L248.70 31.62L246.30 34.02Z" fill="#00ff00"/><path d="M252.86 24.38L255.26 21.98L257.66 24.38L255.26 26.78Z" fill="#00ff00"/></g>
<path d="M81.2 83.5H146.5V10.2" fill="none" stroke="#999" stroke-width="0.6"/>
<path d="M84.2 24.9H103.6" stroke="#0000ff" stroke-width="1.0" stroke-dasharray="1.3 1.7" fill="none"/><circle cx="94.0" cy="24.9" r="2.0" fill="#0000ff"/>
<path d="M84.2 47.5H103.6" stroke="#000" stroke-width="0.9" fill="none"/><rect x="92.5" y="46.0" width="3.0" height="3.0" fill="#000"/>
<path d="M84.2 70.1H103.6" stroke="#00ff00" stroke-width="0.85" stroke-dasharray="2.6 2.0 4.4 2.0 4.4 2.0 2.6 0" fill="none"/><path d="M91.60 70.10L94.00 67.70L96.40 70.10L94.00 72.50Z" fill="#00ff00"/>
<text transform="translate(105.90,27.40) scale(1,1.13)" font-size="7.7" text-anchor="start" stroke="#000" stroke-width="0.10" font-weight="bold">hadrons</text>
<text transform="translate(105.90,49.40) scale(1,1.13)" font-size="7.7" text-anchor="start" stroke="#000" stroke-width="0.10" font-weight="bold">quarks</text>
<text transform="translate(105.90,72.30) scale(1,1.13)" font-size="7.7" text-anchor="start" stroke="#000" stroke-width="0.10" font-weight="bold">hybrid</text>
</svg></body></html>
